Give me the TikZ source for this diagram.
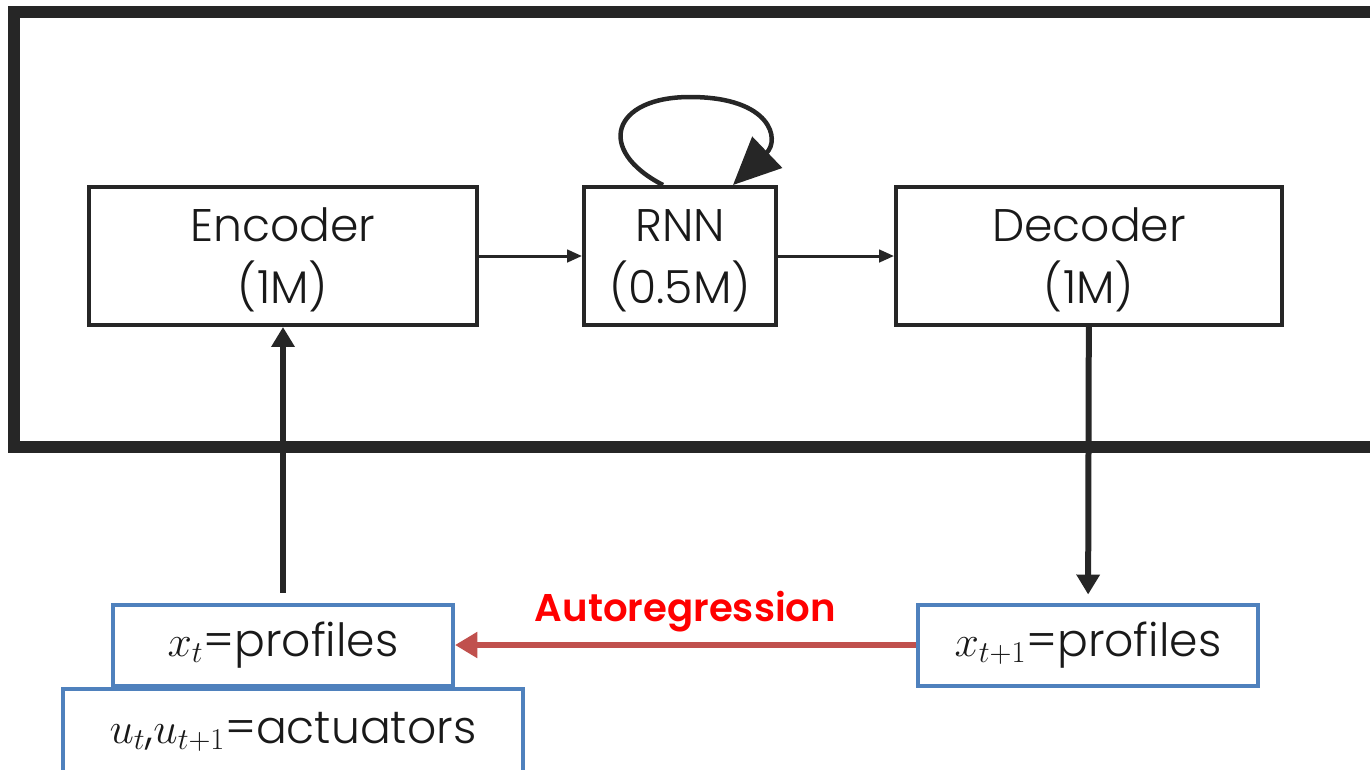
\documentclass[tikz,border=0pt]{standalone}
\usepackage{fontspec}
\setmainfont{Poppins}[UprightFont=*-Light, BoldFont=*-SemiBold]
\usetikzlibrary{arrows.meta}
\definecolor{linegray}{RGB}{38,38,38}
\definecolor{boxblue}{RGB}{79,129,189}
\definecolor{arrowred}{RGB}{192,80,77}
\definecolor{labelred}{RGB}{255,0,0}

\begin{document}
\begin{tikzpicture}[x=0.02cm, y=-0.02cm,
  every node/.style={font=\fontsize{26}{34}\selectfont, text=black!90},
  block/.style={draw=linegray, line width=0.08cm, minimum height=2.76cm, align=center, inner sep=0pt},
  databox/.style={draw=boxblue, line width=0.08cm, minimum height=1.62cm, inner sep=0pt},
  thinarrow/.style={draw=linegray, line width=0.06cm, -{Triangle[length=0.3cm, width=0.25cm]}},
  thickarrow/.style={draw=linegray, line width=0.12cm, -{Triangle[length=0.4cm, width=0.45cm]}}]
  \useasboundingbox (0,0) rectangle (1370,769);

  % outer frame, runs off the right edge
  \draw[linegray, line width=0.24cm] (14,12) rectangle (1420,447);

  \node[block, minimum width=7.76cm] (enc) at (283,256) {\strut Encoder\\(1M)};
  \node[block, minimum width=3.84cm] (rnn) at (680,256) {\strut RNN\\(0.5M)};
  \node[block, minimum width=7.72cm] (dec) at (1089,256) {\strut Decoder\\(1M)};

  \node[databox, minimum width=6.8cm] (xt) at (283,645) {$x_t$=profiles};
  \node[databox, minimum width=9.2cm, minimum height=1.72cm] (ut) at (293,732) {$u_t$,$u_{t+1}$=actuators};
  \node[databox, minimum width=6.8cm] (xt1) at (1088,645) {$x_{t+1}$=profiles};

  \draw[thinarrow] (enc) -- (rnn);
  \draw[thinarrow] (rnn) -- (dec);
  \draw[linegray, line width=0.09cm, -{Triangle[length=0.95cm, width=0.85cm]}]
    ([xshift=-0.34cm]rnn.north) .. controls (595,150) and (612,97) .. (690,97)
    .. controls (772,97) and (780,140) .. ([xshift=1.06cm]rnn.north);
  \draw[thickarrow, shorten <=0.2cm] (xt) -- (enc);
  \draw[thickarrow, shorten >=0.16cm] (dec) -- (xt1);
  \draw[arrowred, line width=0.12cm, -{Triangle[length=0.45cm, width=0.5cm]}] (xt1) -- node[above=0.08cm, text=labelred, font=\fontsize{22}{26}\selectfont\bfseries] {Autoregression} (xt);
\end{tikzpicture}
\end{document}
